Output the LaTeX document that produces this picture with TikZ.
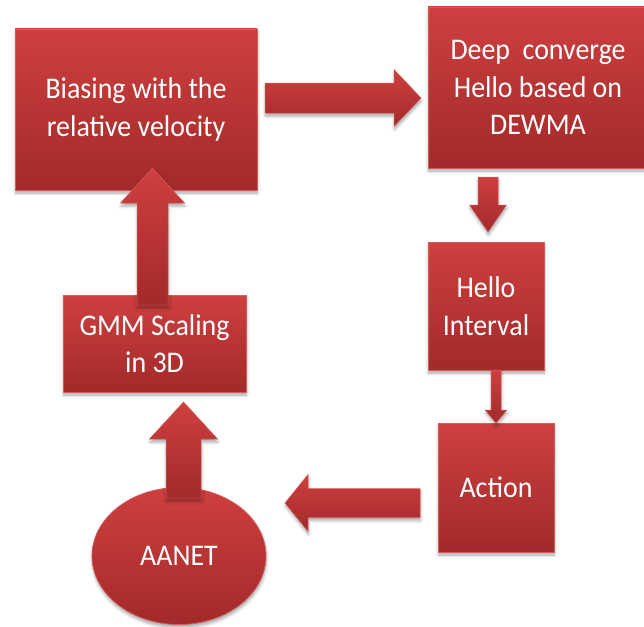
\documentclass[tikz,border=0pt]{standalone}
\usepackage{fontspec}
\setmainfont{Carlito}[FakeStretch=0.93]
\usetikzlibrary{calc,shapes.geometric,shadows.blur}

\definecolor{boxtop}{HTML}{CF3F3F}
\definecolor{boxbot}{HTML}{A22A2A}
\definecolor{boxedge}{HTML}{D65C5A}

% Block arrow from #1 to #2: half shaft width #3, half head width #4, head length #5
\newcommand\blockarrow[5]{%
  \coordinate (hb) at ($(#2)!#5!(#1)$);
  \path[arrowbody]
    ($(#1)!#3!90:(#2)$) -- ($(hb)!#3!90:(#2)$) -- ($(hb)!#4!90:(#2)$) -- (#2)
    -- ($(hb)!#4!-90:(#2)$) -- ($(hb)!#3!-90:(#2)$) -- ($(#1)!#3!-90:(#2)$) -- cycle;}

\begin{document}
\begin{tikzpicture}[x=1pt,y=-1pt,
  softshadow/.style={blur shadow={shadow xshift=0.5pt, shadow yshift=-3pt,
      shadow blur radius=3pt, shadow opacity=35}},
  box/.style={rectangle, top color=boxtop, bottom color=boxbot, draw=boxedge,
      line width=0.7pt, text=white, align=center, inner sep=0pt,
      font=\fontsize{30}{37.5}\selectfont, softshadow},
  arrowbody/.style={top color=boxtop, bottom color=boxbot, draw=boxedge,
      line width=0.5pt, softshadow}]
\useasboundingbox (0,0) rectangle (644,626);

% process blocks
\node[box, minimum width=242pt, minimum height=161pt] (bias) at (136,109.5)
  {Biasing with the\\relative velocity};
\node[box, minimum width=220pt, minimum height=161pt] (dewma) at (538,87.5)
  {Deep~ converge\\Hello based on\\DEWMA};
\node[box, minimum width=116pt, minimum height=128pt] (hello) at (486,306)
  {Hello\\Interval};
\node[box, minimum width=116pt, minimum height=129pt] (action) at (496,487.5)
  {Action};
\node[box, minimum width=183pt, minimum height=97pt] (gmm) at (154.5,343.5)
  {GMM Scaling\\in 3D};
\node[box, ellipse, minimum width=174pt, minimum height=137pt] (aanet) at (179,556)
  {AANET};

% arrow end points
\coordinate (bias-out)   at (265,98);
\coordinate (dewma-in)   at (421,98);
\coordinate (dewma-out)  at (488,177);
\coordinate (hello-in)   at (488,232);
\coordinate (hello-out)  at (496,370);
\coordinate (action-in)  at (496,423);
\coordinate (action-out) at (420,503);
\coordinate (aanet-in)   at (285,503);
\coordinate (aanet-out)  at (183.5,498);
\coordinate (gmm-in)     at (183.5,402);
\coordinate (gmm-out)    at (152.5,305);
\coordinate (bias-in)    at (152.5,168);

% block arrows
\blockarrow{bias-out}{dewma-in}{15pt}{28.5pt}{27pt}
\blockarrow{dewma-out}{hello-in}{10pt}{18.5pt}{27pt}
\blockarrow{hello-out}{action-in}{5pt}{11pt}{13pt}
\blockarrow{action-out}{aanet-in}{14.5pt}{28.5pt}{23pt}
\blockarrow{aanet-out}{gmm-in}{17.5pt}{34pt}{37pt}
\blockarrow{gmm-out}{bias-in}{15.5pt}{32pt}{35pt}
\end{tikzpicture}
\end{document}
